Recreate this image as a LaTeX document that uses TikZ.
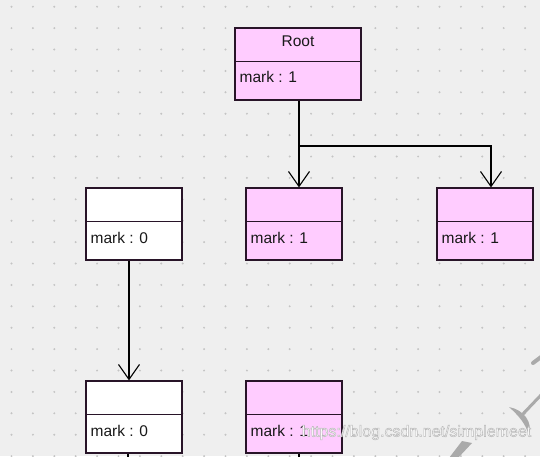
\documentclass[tikz,border=0pt]{standalone}
\usepackage{fontspec}
\setmainfont{Liberation Sans}
\usetikzlibrary{arrows.meta}
\definecolor{bgc}{RGB}{239,239,239}
\definecolor{dotc}{RGB}{196,196,196}
\definecolor{pinkc}{RGB}{255,204,255}
\definecolor{edgec}{RGB}{40,20,40}
\definecolor{txtc}{RGB}{25,25,25}
\definecolor{wmc}{RGB}{170,170,170}
\newcommand{\outlinetext}[1]{\special{pdf:code q 2 Tr 0.5 w 0.72 0.72 0.72 RG}#1\special{pdf:code Q}}
\tikzset{
  cls/.style={draw=edgec, line width=1.2pt, inner sep=0pt, minimum width=96pt, minimum height=72pt},
  rootcls/.style={cls, minimum width=126pt},
  pinkbox/.style={fill=pinkc},
  whitebox/.style={fill=white},
  lbl/.style={anchor=base west, inner sep=0pt, text=txtc, font=\fontsize{15.5}{17}\selectfont},
  ttl/.style={anchor=base, inner sep=0pt, text=txtc, font=\fontsize{15.5}{17}\selectfont},
  divider/.style={draw=edgec, line width=1.2pt},
  conn/.style={draw=black, line width=1.2pt},
  arr/.style={conn, -{Straight Barb[length=15pt,width=21pt,line width=1.1pt]}},
  wmk/.style={inner sep=0pt, font=\fontsize{16}{18}\selectfont}
}
\begin{document}
\begin{tikzpicture}[x=1pt,y=-1pt]
\useasboundingbox (0,0) rectangle (540,456);
\fill[bgc] (0,0) rectangle (540,456);
% dot grid
\foreach \i in {0,...,25} {
  \foreach \j in {0,...,21} {
    \fill[dotc] ({11.5+21.4*\i},{6.7+21.4*\j}) circle (1.1pt);
  }
}
% class boxes
\node[rootcls, pinkbox] (root) at (298,64) {};
\node[cls, whitebox] (A) at (134,224) {};
\node[cls, pinkbox] (B) at (294,224) {};
\node[cls, pinkbox] (C) at (485,224) {};
\node[cls, whitebox] (D) at (134,417) {};
\node[cls, pinkbox] (E) at (294,417) {};
% dividers
\foreach \n in {root,A,B,C,D,E} {
  \draw[divider] ([yshift=-34pt]\n.north west) -- ([yshift=-34pt]\n.north east);
}
% texts
\node[ttl] (rootname) at ([yshift=-19pt]root.north) {Root};
\node[lbl] (rootmark) at ([xshift=5pt,yshift=-55pt]root.north west) {mark : 1};
\node[lbl] (Amark) at ([xshift=5pt,yshift=-56pt]A.north west) {mark : 0};
\node[lbl] (Bmark) at ([xshift=5pt,yshift=-56pt]B.north west) {mark : 1};
\node[lbl] (Cmark) at ([xshift=5pt,yshift=-56pt]C.north west) {mark : 1};
\node[lbl] (Dmark) at ([xshift=5pt,yshift=-56pt]D.north west) {mark : 0};
\node[lbl] (Emark) at ([xshift=5pt,yshift=-56pt]E.north west) {mark : 1};
% connectors
\coordinate (br) at (299,146);
\draw[arr] ([xshift=1pt]root.south) -- ([xshift=5pt]B.north);
\draw[arr] (br) -| ([xshift=6pt]C.north);
\draw[arr] ([xshift=-5pt]A.south) -- ([xshift=-5pt]D.north);
\coordinate (Dend) at (128,460);
\coordinate (Eend) at (299,460);
\draw[conn] ([xshift=-6pt]D.south) -- (Dend);
\draw[conn] ([xshift=5pt]E.south) -- (Eend);
% watermark strokes
\draw[wmc, line width=4pt, line cap=round] (533,363) -- (541,357);
\draw[wmc, line width=3pt] (521,416) -- (542,394);
\fill[wmc] (509,407) .. controls (524,410) and (533,422) .. (529,436) .. controls (526,424) and (519,416) .. (509,407) -- cycle;
\fill[wmc] (449,458) -- (462,441) -- (472,443) -- (458,458) -- cycle;
% watermark text
\node[wmk, text=white] (wm) at (416.5,432.5) {\outlinetext{https://blog.csdn.net/simplemeet}};
\end{tikzpicture}
\end{document}
